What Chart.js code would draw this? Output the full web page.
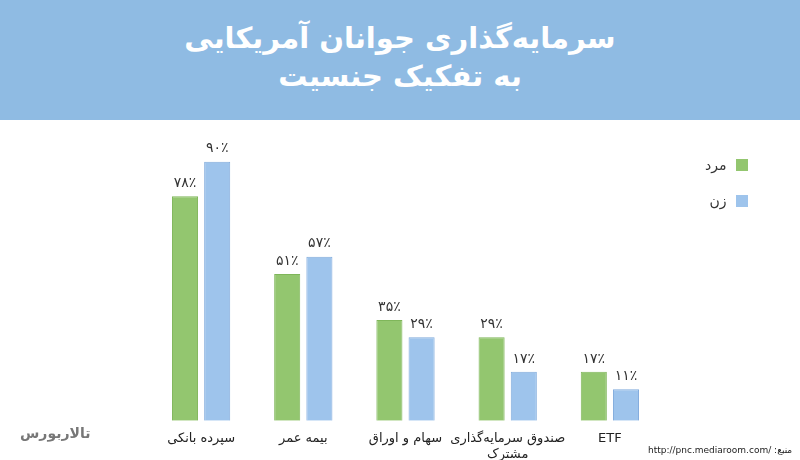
<!DOCTYPE html>
<html><head><meta charset="utf-8">
<script src="https://cdn.jsdelivr.net/npm/chart.js@4/dist/chart.umd.min.js"></script>
<style>
body{margin:0;width:800px;height:460px;background:#fff;font-family:"DejaVu Sans",sans-serif;position:relative;overflow:hidden}
#head{position:absolute;left:0;top:0;width:800px;height:120px;background:#8fbbe3;color:#fff;text-align:center;font-weight:bold;font-size:29px;line-height:38px;padding-top:19px;box-sizing:border-box}
#wrap{position:absolute;left:0;top:120px;width:800px;height:344px}
#legend{position:absolute;left:705px;top:155px;font-size:14px;color:#333;direction:rtl}
#legend div{height:20px;margin-bottom:16px;display:flex;align-items:center}
#legend span.sw{display:inline-block;width:12px;height:12px;margin-left:10px}
#src{position:absolute;left:648px;top:445px;font-size:9px;color:#222;white-space:nowrap}
#logo{position:absolute;left:20px;top:425px;font-size:14px;font-weight:bold;color:#777;direction:rtl}
</style></head><body>
<div id="head">سرمایه‌گذاری جوانان آمریکایی<br>به تفکیک جنسیت</div>
<div id="wrap"><canvas id="c" width="800" height="344"></canvas></div>
<div id="legend"><div><span class="sw" style="background:#93c66f"></span>مرد</div><div><span class="sw" style="background:#9ec4ec"></span>زن</div></div>
<div id="src">http://pnc.mediaroom.com/ :منبع</div>
<div id="logo">تالاربورس</div>
<script>
const categories = ['سپرده بانکی', 'بیمه عمر', 'سهام و اوراق', ['صندوق سرمایه‌گذاری', 'مشترک'], 'ETF'];
const men = [78, 51, 35, 29, 17];
const women = [90, 57, 29, 17, 11];

const fa = n => String(n).replace(/\d/g, d => '۰۱۲۳۴۵۶۷۸۹'[d]) + '٪';

const labelPlugin = {
  id: 'vals',
  afterDatasetsDraw(chart) {
    const ctx = chart.ctx;
    ctx.save();
    ctx.font = '14px "DejaVu Sans"';
    ctx.fillStyle = '#333';
    ctx.textAlign = 'center';
    ctx.textBaseline = 'bottom';
    chart.data.datasets.forEach((ds, i) => {
      chart.getDatasetMeta(i).data.forEach((bar, j) => {
        ctx.fillText(fa(ds.data[j]), bar.x, bar.y - 6);
      });
    });
    ctx.restore();
  }
};

new Chart(document.getElementById('c'), {
  type: 'bar',
  data: {
    labels: categories,
    datasets: [
      { label: 'مرد', data: men, backgroundColor: '#93c66f', borderColor: '#7fb65a', borderWidth: 1, categoryPercentage: 0.63, barPercentage: 0.81 },
      { label: 'زن', data: women, backgroundColor: '#9ec4ec', borderColor: '#80abdc', borderWidth: 1, categoryPercentage: 0.63, barPercentage: 0.81 }
    ]
  },
  options: {
    responsive: false,
    animation: false,
    layout: { padding: { left: 150, right: 139, top: 13, bottom: 0 } },
    plugins: { legend: { display: false }, tooltip: { enabled: false } },
    scales: {
      y: { display: false, min: 0, max: 100 },
      x: {
        grid: { display: false },
        border: { display: false },
        ticks: { color: '#222', font: { family: 'DejaVu Sans', size: 13 }, padding: 2, maxRotation: 0, autoSkip: false }
      }
    }
  },
  plugins: [labelPlugin]
});
</script>
</body></html>
